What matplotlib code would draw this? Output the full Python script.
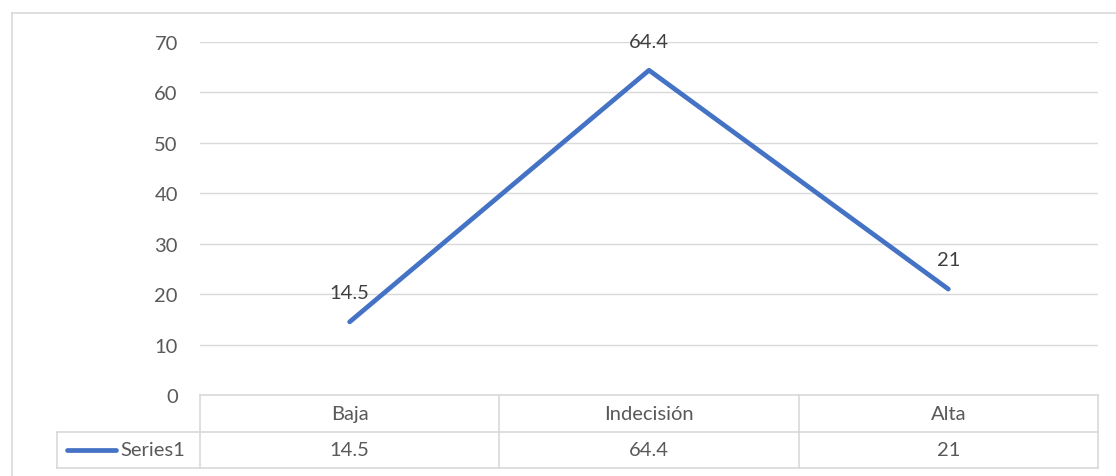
import matplotlib.pyplot as plt
from matplotlib.lines import Line2D

categories = ['Baja', 'Indecisión', 'Alta']
values = [14.5, 64.4, 21]
value_labels = ['14.5', '64.4', '21']
series_name = 'Series1'

W, H = 1116, 477
plt.rcParams['font.family'] = ['Lato', 'DejaVu Sans']
FS = 14.5

fig = plt.figure(figsize=(W / 100, H / 100), dpi=100)
grid_c = '#d9d9d9'
text_c = '#595959'
line_c = '#4472c4'

# plot area in pixels: x 200..1098, y 43..396 (top-down)
ax = fig.add_axes([200 / W, (H - 396) / H, 898 / W, 353 / H])
x = list(range(len(categories)))
ax.plot(x, values, color=line_c, lw=3.4, solid_capstyle='round', zorder=3)
ax.set_xlim(-0.5, len(categories) - 0.5)
ax.set_ylim(0, 70)
ax.set_yticks(range(0, 71, 10))
ax.set_xticks([])
ax.grid(axis='y', color=grid_c, lw=1)
ax.set_axisbelow(True)
for s in ax.spines.values():
    s.set_visible(False)
ax.tick_params(axis='y', length=0, pad=16, labelsize=FS, labelcolor=text_c)

for xi, v, lab in zip(x, values, value_labels):
    ax.annotate(lab, (xi, v), xytext=(0, 21), textcoords='offset points',
                ha='center', va='center', fontsize=FS, color='#404040')

# data table under the plot
def fx(px):
    return px / W

def fy(py):
    return 1 - py / H

bounds = [ax.transData.transform((b, 0))[0] for b in [-0.5, 0.5, 1.5, 2.5]]
top, mid, bot = 396, 433, 469
legend_left = 57

def hline(x0, x1, y):
    fig.add_artist(Line2D([fx(x0), fx(x1)], [fy(y), fy(y)], color=grid_c, lw=1.2))

def vline(xp, y0, y1):
    fig.add_artist(Line2D([fx(xp), fx(xp)], [fy(y0), fy(y1)], color=grid_c, lw=1.2))

hline(bounds[0], bounds[-1], top)
hline(legend_left, bounds[-1], mid)
hline(legend_left, bounds[-1], bot)
for b in bounds:
    vline(b, top, bot)
vline(legend_left, mid, bot)

for i, (cat, lab) in enumerate(zip(categories, value_labels)):
    cx = fx((bounds[i] + bounds[i + 1]) / 2)
    fig.text(cx, fy((top + mid) / 2), cat, ha='center', va='center', fontsize=FS, color=text_c)
    fig.text(cx, fy((mid + bot) / 2), lab, ha='center', va='center', fontsize=FS, color=text_c)

# legend key in table row
fig.add_artist(Line2D([fx(67), fx(116)], [fy(451), fy(451)], color=line_c, lw=3.4,
                      solid_capstyle='round'))
fig.text(fx(120), fy(451), series_name, ha='left', va='center', fontsize=FS, color=text_c)

# chart border
fig.add_artist(Line2D([fx(12), fx(12)], [fy(14), 0], color=grid_c, lw=1.2))
fig.add_artist(Line2D([fx(12), 1], [fy(14), fy(14)], color=grid_c, lw=1.2))

fig.savefig('out.png', dpi=100)
